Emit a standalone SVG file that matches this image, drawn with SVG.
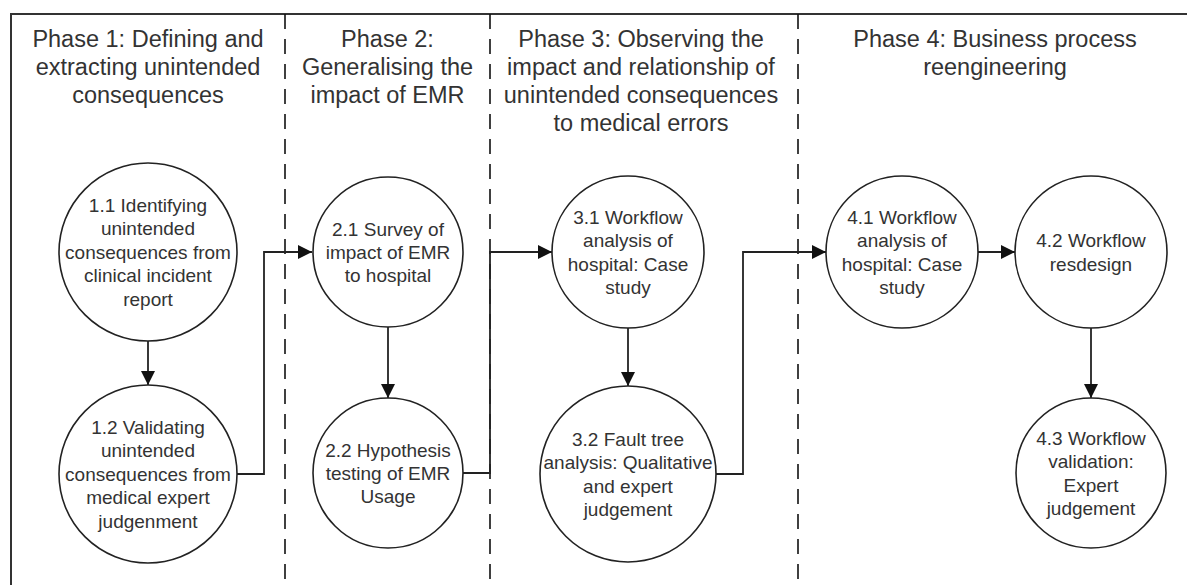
<svg xmlns="http://www.w3.org/2000/svg" width="1187" height="585" viewBox="0 0 1187 585">
<style>
.frame{fill:none;stroke:#333;stroke-width:2}
.sep{fill:none;stroke:#111;stroke-width:1.6;stroke-dasharray:15 10}
.node circle{fill:#fff;stroke:#222;stroke-width:1.6}
.node text{font-family:"Liberation Sans",Arial,sans-serif;font-size:19px;fill:#333;text-anchor:middle}
.head{font-family:"Liberation Sans",Arial,sans-serif;font-size:23.5px;fill:#333;text-anchor:middle}
.conn{fill:none;stroke:#222;stroke-width:1.8;marker-end:url(#ah)}
</style>
<defs>
<marker id="ah" markerUnits="userSpaceOnUse" markerWidth="14" markerHeight="14" refX="14" refY="7" orient="auto">
<path d="M0,0 L14,7 L0,14 Z" fill="#111"/>
</marker>
</defs>
<rect width="1187" height="585" fill="#fff"/>
<g id="frame">
<path class="frame" d="M11,585 V14 H1187"/>
<line class="sep" x1="285" y1="14" x2="285" y2="585"/>
<line class="sep" x1="490" y1="14" x2="490" y2="585"/>
<line class="sep" x1="798" y1="14" x2="798" y2="585"/>
</g>
<g id="headers">
<text class="head" x="148" y="46.5">Phase 1: Defining and<tspan x="148" dy="28">extracting unintended</tspan><tspan x="148" dy="28">consequences</tspan></text>
<text class="head" x="387.5" y="46.5">Phase 2:<tspan x="387.5" dy="28">Generalising the</tspan><tspan x="387.5" dy="28">impact of EMR</tspan></text>
<text class="head" x="641" y="46.5">Phase 3: Observing the<tspan x="641" dy="28">impact and relationship of</tspan><tspan x="641" dy="28">unintended consequences</tspan><tspan x="641" dy="28">to medical errors</tspan></text>
<text class="head" x="995" y="46.5">Phase 4: Business process<tspan x="995" dy="28">reengineering</tspan></text>
</g>
<g id="connectors">
<line class="conn" x1="148" y1="341" x2="148" y2="385"/>
<line class="conn" x1="388" y1="327" x2="388" y2="398"/>
<line class="conn" x1="628" y1="328" x2="628" y2="386"/>
<line class="conn" x1="1091" y1="328" x2="1091" y2="398"/>
<line class="conn" x1="978" y1="252" x2="1015" y2="252"/>
<path class="conn" d="M237,474 H264 V252 H312"/>
<path class="conn" d="M463,473 H490 V252 H552"/>
<path class="conn" d="M716,474 H743 V252 H826"/>
</g>
<g id="n11" class="node"><circle cx="148" cy="252" r="89"/>
<text x="148" y="212">1.1 Identifying<tspan x="148" dy="23.4">unintended</tspan><tspan x="148" dy="23.4">consequences from</tspan><tspan x="148" dy="23.4">clinical incident</tspan><tspan x="148" dy="23.4">report</tspan></text></g>
<g id="n12" class="node"><circle cx="148" cy="474" r="89"/>
<text x="148" y="434">1.2 Validating<tspan x="148" dy="23.4">unintended</tspan><tspan x="148" dy="23.4">consequences from</tspan><tspan x="148" dy="23.4">medical expert</tspan><tspan x="148" dy="23.4">judgenment</tspan></text></g>
<g id="n21" class="node"><circle cx="388" cy="252" r="75"/>
<text x="388" y="235.6">2.1 Survey of<tspan x="388" dy="23.4">impact of EMR</tspan><tspan x="388" dy="23.4">to hospital</tspan></text></g>
<g id="n22" class="node"><circle cx="388" cy="473" r="75"/>
<text x="388" y="456.6">2.2 Hypothesis<tspan x="388" dy="23.4">testing of EMR</tspan><tspan x="388" dy="23.4">Usage</tspan></text></g>
<g id="n31" class="node"><circle cx="628" cy="252" r="76"/>
<text x="628" y="223.9">3.1 Workflow<tspan x="628" dy="23.4">analysis of</tspan><tspan x="628" dy="23.4">hospital: Case</tspan><tspan x="628" dy="23.4">study</tspan></text></g>
<g id="n32" class="node"><circle cx="628" cy="474" r="88"/>
<text x="628" y="445.9">3.2 Fault tree<tspan x="628" dy="23.4">analysis: Qualitative</tspan><tspan x="628" dy="23.4">and expert</tspan><tspan x="628" dy="23.4">judgement</tspan></text></g>
<g id="n41" class="node"><circle cx="902" cy="252" r="76"/>
<text x="902" y="223.9">4.1 Workflow<tspan x="902" dy="23.4">analysis of</tspan><tspan x="902" dy="23.4">hospital: Case</tspan><tspan x="902" dy="23.4">study</tspan></text></g>
<g id="n42" class="node"><circle cx="1091" cy="252" r="76"/>
<text x="1091" y="247.3">4.2 Workflow<tspan x="1091" dy="23.4">resdesign</tspan></text></g>
<g id="n43" class="node"><circle cx="1091" cy="473" r="75"/>
<text x="1091" y="444.9">4.3 Workflow<tspan x="1091" dy="23.4">validation:</tspan><tspan x="1091" dy="23.4">Expert</tspan><tspan x="1091" dy="23.4">judgement</tspan></text></g>
</svg>
